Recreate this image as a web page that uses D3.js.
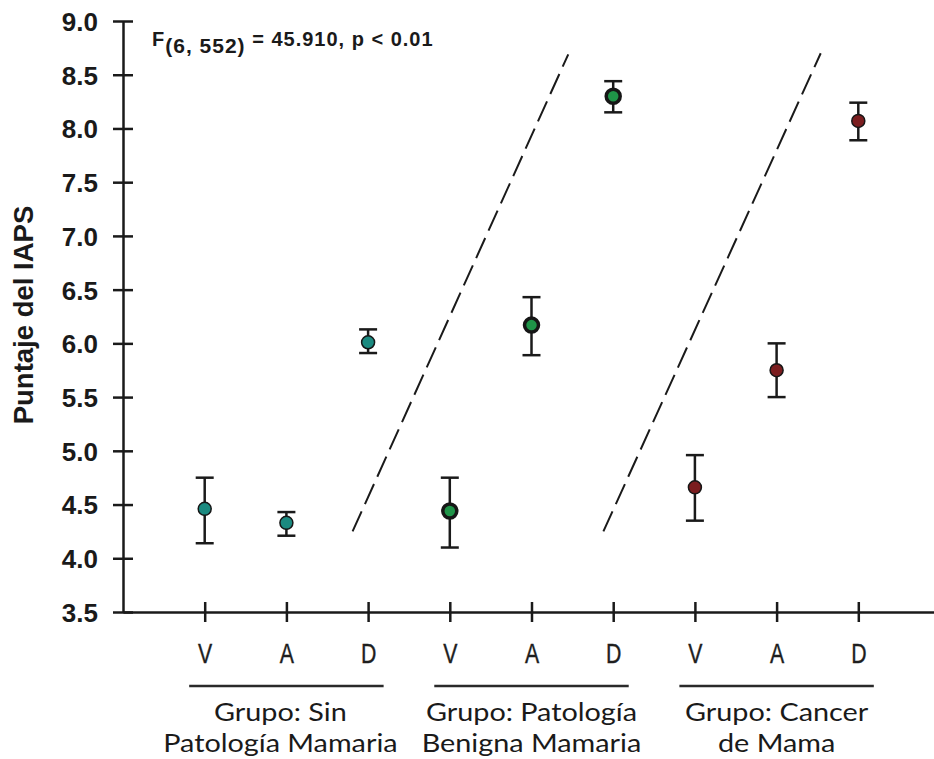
<!DOCTYPE html>
<html>
<head>
<meta charset="utf-8">
<script src="https://cdnjs.cloudflare.com/ajax/libs/d3/7.8.5/d3.min.js"></script>
<style>
  body { margin: 0; background: #fff; }
  svg { display: block; }
</style>
</head>
<body>
<svg id="chart"></svg>
<script>
// data
var conditions = ["V", "A", "D", "V", "A", "D", "V", "A", "D"];
var groupOf    = [0, 0, 0, 1, 1, 1, 2, 2, 2];
var means      = [4.46, 4.33, 6.01, 4.44, 6.17, 8.30, 4.66, 5.75, 8.07];
var lower      = [4.14, 4.21, 5.91, 4.10, 5.89, 8.15, 4.35, 5.50, 7.89];
var upper      = [4.75, 4.43, 6.13, 4.75, 6.43, 8.44, 4.96, 6.00, 8.24];
var groupLines = [["Grupo: Sin", "Patología Mamaria"],
                  ["Grupo: Patología", "Benigna Mamaria"],
                  ["Grupo: Cancer", "de Mama"]];
var groupCenter = [2, 5, 8];
var yTicks = [3.5, 4.0, 4.5, 5.0, 5.5, 6.0, 6.5, 7.0, 7.5, 8.0, 8.5, 9.0];
// dashed separators (x in category units, y in score units)
var sepX0 = [2.81, 5.88], sepY0 = [4.25, 4.25];
var sepX1 = [5.45, 8.54], sepY1 = [8.69, 8.70];

// layout conf.
var svgWidth = 934, svgHeight = 759;
var ink = "#1a1a1a";
var groupColors = ["#1b8a80", "#1f9448", "#7b1d1f"];
var markerR = [6.5, 7, 6.5], markerStroke = [1.5, 3.5, 1.5];

var svg = d3.select("#chart")
    .attr("width", svgWidth)
    .attr("height", svgHeight);

var x = d3.scaleLinear().domain([0, 10]).range([123, 940]);
var y = d3.scaleLinear().domain([3.5, 9.0]).range([612, 21]);

// y axis
var yAxis = svg.append("g")
    .attr("transform", "translate(" + x(0) + ",0)")
    .call(d3.axisLeft(y).tickValues(yTicks).tickFormat(d3.format(".1f")).tickSize(10).tickSizeOuter(0));
yAxis.select(".domain").attr("stroke", ink).attr("stroke-width", 2.5);
yAxis.selectAll(".tick line").attr("x1", 10).attr("x2", -10).attr("stroke", ink).attr("stroke-width", 2.5);
yAxis.selectAll(".tick text")
    .attr("x", -25)
    .attr("dy", "0.36em")
    .attr("fill", ink)
    .style("font-family", "'Liberation Sans', Arial, sans-serif")
    .style("font-weight", "bold")
    .style("font-size", "26px");

// x axis
var xAxis = svg.append("g")
    .attr("transform", "translate(0," + y(3.5) + ")")
    .call(d3.axisBottom(x).tickValues(d3.range(1, 10)).tickFormat(function(d) { return conditions[d - 1]; })
        .tickSize(10).tickSizeOuter(0));
xAxis.select(".domain").attr("stroke", ink).attr("stroke-width", 2.5);
xAxis.selectAll(".tick line").attr("y1", -10).attr("y2", 10).attr("stroke", ink).attr("stroke-width", 2.5);
xAxis.selectAll(".tick text")
    .attr("y", 51)
    .attr("dy", 0)
    .attr("transform", "scale(0.76,1)")
    .attr("fill", "#1e1e1e")
    .attr("stroke", "#1e1e1e")
    .attr("stroke-width", 0.4)
    .style("font-family", "'Liberation Sans', Arial, sans-serif")
    .style("font-size", "28px");

// y title
svg.append("text")
    .attr("transform", "translate(33," + 315 + ") rotate(-90)")
    .attr("text-anchor", "middle")
    .attr("fill", ink)
    .style("font-family", "'Liberation Sans', Arial, sans-serif")
    .style("font-weight", "bold")
    .style("font-size", "27.5px")
    .text("Puntaje del IAPS");

// annotation
var ann = svg.append("text")
    .attr("x", 152)
    .attr("y", 46)
    .attr("fill", ink)
    .style("font-family", "'Liberation Sans', Arial, sans-serif")
    .style("font-weight", "bold")
    .style("font-size", "20px")
    .style("letter-spacing", "1px");
ann.append("tspan").text("F");
ann.append("tspan").attr("dy", 7).style("font-size", "21px").text("(6, 552)");
ann.append("tspan").attr("dy", -7).text(" = 45.910, p < 0.01");

// dashed separators
svg.append("g").selectAll("line")
    .data(sepX0)
    .enter()
    .append("line")
    .attr("x1", function(d, i) { return x(sepX0[i]); })
    .attr("y1", function(d, i) { return y(sepY0[i]); })
    .attr("x2", function(d, i) { return x(sepX1[i]); })
    .attr("y2", function(d, i) { return y(sepY1[i]); })
    .attr("stroke", ink)
    .attr("stroke-width", 2)
    .attr("stroke-dasharray", "22,8");

// error bars
var pts = svg.append("g").selectAll(".pt")
    .data(means)
    .enter()
    .append("g")
    .classed("pt", true)
    .attr("transform", function(d, i) { return "translate(" + x(i + 1) + ",0)"; });

pts.append("line")
    .attr("y1", function(d, i) { return y(lower[i]); })
    .attr("y2", function(d, i) { return y(upper[i]); })
    .attr("stroke", ink).attr("stroke-width", 2.5);
pts.append("line")
    .attr("x1", -9).attr("x2", 9)
    .attr("y1", function(d, i) { return y(upper[i]); })
    .attr("y2", function(d, i) { return y(upper[i]); })
    .attr("stroke", ink).attr("stroke-width", 2.5);
pts.append("line")
    .attr("x1", -9).attr("x2", 9)
    .attr("y1", function(d, i) { return y(lower[i]); })
    .attr("y2", function(d, i) { return y(lower[i]); })
    .attr("stroke", ink).attr("stroke-width", 2.5);
pts.append("circle")
    .attr("cy", function(d) { return y(d); })
    .attr("r", function(d, i) { return markerR[groupOf[i]]; })
    .attr("fill", function(d, i) { return groupColors[groupOf[i]]; })
    .attr("stroke", "#161616")
    .attr("stroke-width", function(d, i) { return markerStroke[groupOf[i]]; });

// group brackets and labels
var grp = svg.append("g").selectAll(".grp")
    .data(groupLines)
    .enter()
    .append("g")
    .classed("grp", true);

grp.append("line")
    .attr("x1", function(d, i) { return x(groupCenter[i] - 1.19); })
    .attr("x2", function(d, i) { return x(groupCenter[i] + 1.19); })
    .attr("y1", 686).attr("y2", 686)
    .attr("stroke", "#2a2a2a")
    .attr("stroke-width", 2.5);

// labels: Lato, widened a little to match the original's stretched glyphs
grp.append("g")
    .attr("transform", function(d, i) {
        return "translate(" + (x(groupCenter[i]) - (i === 0 ? 6 : 0)) + ",0) scale(1.13,1)";
    })
    .selectAll("text")
    .data(function(d) { return d; })
    .enter()
    .append("text")
    .attr("x", 0)
    .attr("y", function(t, j) { return 721 + j * 31; })
    .attr("text-anchor", "middle")
    .attr("fill", ink)
    .style("font-family", "Lato, 'Open Sans', sans-serif")
    .style("font-size", "25.5px")
    .text(function(t) { return t; });
</script>
</body>
</html>
